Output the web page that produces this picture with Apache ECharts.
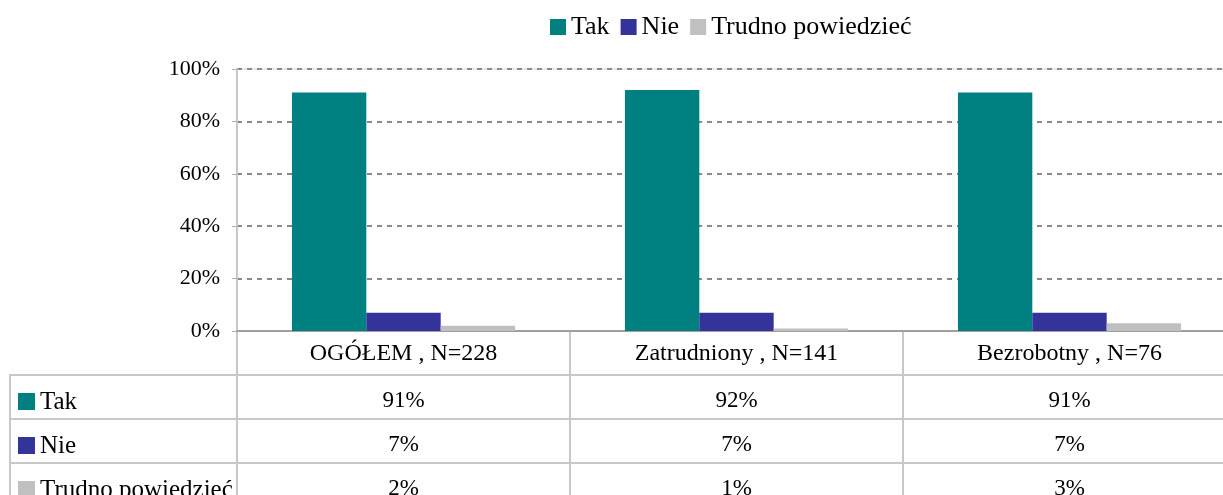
<!DOCTYPE html>
<html>
<head>
<meta charset="utf-8">
<script src="https://cdn.jsdelivr.net/npm/echarts@6/dist/echarts.min.js"></script>
<style>
  html, body { margin: 0; padding: 0; background: #fff; }
  #chart { width: 1223px; height: 495px; }
</style>
</head>
<body>
<div id="chart"></div>
<script>
// dane wykresu
const categories = ['OGÓŁEM , N=228', 'Zatrudniony , N=141', 'Bezrobotny , N=76']
const seriesNames = ['Tak', 'Nie', 'Trudno powiedzieć']
const tak = [91, 92, 91]
const nie = [7, 7, 7]
const trudno = [2, 1, 3]
const yTicks = [0, 20, 40, 60, 80, 100]

const colors = ['#008080', '#333399', '#c0c0c0']
const FONT = 'Liberation Serif'
const lineColor = '#c8c8c8'
const rows = [tak, nie, trudno]

const GRID_TOP = 69
const GRID_H = 262
const ROW_H = 44

const chart = echarts.init(document.getElementById('chart'))

// osie dla wierszy tabeli (pod wykresem)
const rowAxes = rows.map((vals, i) => ({
  type: 'category',
  gridIndex: 0,
  position: 'bottom',
  offset: ROW_H * (i + 1),
  data: vals.map(v => v + '%'),
  axisLine: { show: false },
  axisTick: { show: false },
  axisLabel: {
    interval: 0,
    margin: 26,
    verticalAlign: 'middle',
    fontFamily: FONT,
    fontSize: 23,
    color: '#000'
  }
}))

const option = {
  animation: false,
  textStyle: { fontFamily: FONT },
  legend: {
    left: 550,
    top: 14,
    padding: 0,
    itemWidth: 16,
    itemHeight: 16,
    itemGap: 11,
    icon: 'rect',
    data: seriesNames,
    textStyle: { fontFamily: FONT, fontSize: 26, color: '#000' }
  },
  grid: {
    left: 237,
    top: GRID_TOP,
    width: 999,
    height: GRID_H,
    show: true,
    borderColor: '#d4d4d4',
    borderWidth: 1,
    containLabel: false,
    outerBoundsMode: 'none'
  },
  xAxis: [{
    type: 'category',
    data: categories,
    axisLine: { lineStyle: { color: '#a0a0a0', width: 2 } },
    axisTick: { show: false },
    axisLabel: {
      interval: 0,
      margin: 23,
      verticalAlign: 'middle',
      fontFamily: FONT,
      fontSize: 24,
      color: '#000'
    }
  }].concat(rowAxes),
  yAxis: {
    type: 'value',
    min: 0,
    max: 100,
    interval: 20,
    axisLine: { show: true, lineStyle: { color: lineColor, width: 2 } },
    axisTick: { show: true, length: 5, lineStyle: { color: '#b0b0b0' } },
    axisLabel: {
      margin: 17,
      fontFamily: FONT,
      fontSize: 22,
      color: '#000',
      formatter: v => yTicks.includes(v) ? v + '%' : ''
    },
    splitLine: { lineStyle: { color: '#8a8a8a', width: 2, type: [5, 5] } }
  },
  series: [tak, nie, trudno].map((d, i) => ({
    name: seriesNames[i],
    type: 'bar',
    data: d,
    barGap: '0%',
    barCategoryGap: '33%',
    itemStyle: { color: colors[i] }
  }))
}
chart.setOption(option)

// linie tabeli i opisy wierszy
const c0 = chart.convertToPixel({ xAxisIndex: 0 }, categories[0])
const c1 = chart.convertToPixel({ xAxisIndex: 0 }, categories[1])
const half = (c1 - c0) / 2
const axisY = GRID_TOP + GRID_H
const bottom = 495
const graphic = []
const lineStyle = { stroke: lineColor, lineWidth: 2 }

// pionowe linie kolumn
categories.forEach((c, i) => {
  if (i === 0) return
  const x = Math.round(chart.convertToPixel({ xAxisIndex: 0 }, c) - half)
  graphic.push({ type: 'line', shape: { x1: x, y1: axisY, x2: x, y2: bottom }, style: lineStyle, silent: true })
})
const leftX = Math.round(c0 - half)
graphic.push({ type: 'line', shape: { x1: leftX, y1: axisY, x2: leftX, y2: bottom }, style: lineStyle, silent: true })
graphic.push({ type: 'line', shape: { x1: 10, y1: axisY + ROW_H, x2: 10, y2: bottom }, style: lineStyle, silent: true })

// poziome linie wierszy
rows.forEach((r, i) => {
  const y = axisY + ROW_H * (i + 1)
  graphic.push({ type: 'line', shape: { x1: 9, y1: y, x2: 1223, y2: y }, style: lineStyle, silent: true })
  const cy = y + ROW_H / 2
  graphic.push({ type: 'rect', shape: { x: 18, y: cy - 4, width: 17, height: 17 }, style: { fill: colors[i] }, silent: true })
  graphic.push({
    type: 'text',
    x: 40,
    y: cy + 5,
    style: { text: seriesNames[i], fill: '#000', font: '25px "Liberation Serif"', verticalAlign: 'middle', align: 'left' },
    silent: true
  })
})

chart.setOption({ graphic: graphic })
</script>
</body>
</html>
